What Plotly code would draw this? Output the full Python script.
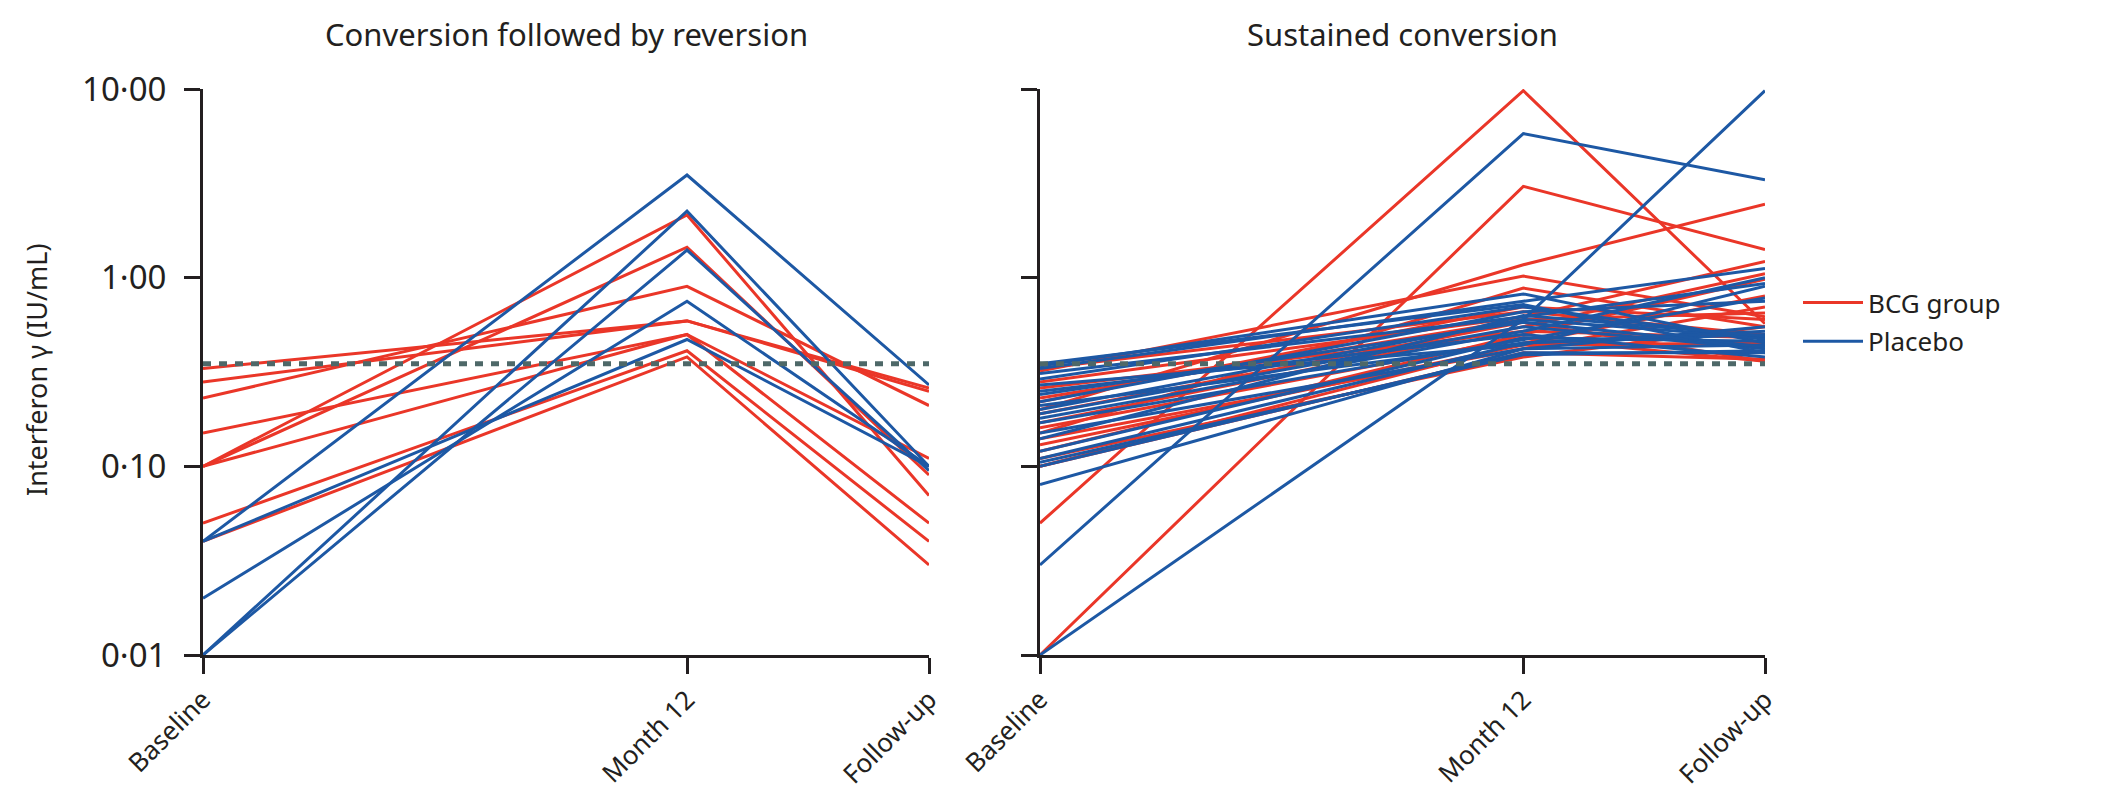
import plotly.graph_objects as go

# ---------------- data ----------------
timepoints = [0, 12, 18]
time_labels = ["Baseline", "Month 12", "Follow-up"]

y_tickvals = [0.01, 0.1, 1, 10]
y_ticktext = ["0·01", "0·10", "1·00", "10·00"]
cutoff = 0.35

panel_titles = ["Conversion followed by reversion", "Sustained conversion"]

# Left panel: conversion followed by reversion
left_bcg_baseline = [0.33, 0.28, 0.23, 0.10, 0.10, 0.15, 0.10, 0.05, 0.04]
left_bcg_month12 = [0.59, 0.59, 0.90, 2.15, 1.45, 0.50, 0.50, 0.41, 0.38]
left_bcg_followup = [0.26, 0.25, 0.21, 0.07, 0.09, 0.11, 0.05, 0.04, 0.03]

left_pla_baseline = [0.04, 0.04, 0.01, 0.01, 0.02]
left_pla_month12 = [3.5, 0.47, 2.25, 1.40, 0.75]
left_pla_followup = [0.27, 0.10, 0.10, 0.095, 0.10]

# Right panel: sustained conversion
right_bcg_baseline = [0.01, 0.05, 0.20, 0.32, 0.15, 0.28, 0.17, 0.12, 0.10, 0.23,
                      0.16, 0.10, 0.22, 0.26, 0.14, 0.11, 0.19, 0.33, 0.13]
right_bcg_month12 = [3.05, 9.8, 1.17, 1.02, 0.88, 0.62, 0.55, 0.50, 0.45, 0.60,
                     0.48, 0.40, 0.70, 0.52, 0.42, 0.38, 0.58, 0.66, 0.44]
right_bcg_followup = [1.41, 0.57, 2.45, 0.62, 0.55, 1.22, 1.05, 0.98, 0.80, 0.65,
                      0.36, 0.37, 0.60, 0.48, 0.70, 0.55, 0.36, 0.50, 0.45]

right_pla_baseline = [0.03, 0.01, 0.08, 0.34, 0.33, 0.31, 0.22, 0.20, 0.19, 0.18,
                      0.11, 0.10, 0.12, 0.25, 0.21, 0.15, 0.29, 0.24, 0.17, 0.105,
                      0.35, 0.14, 0.27]
right_pla_month12 = [5.8, 0.60, 0.42, 0.82, 0.75, 0.62, 0.66, 0.60, 0.55, 0.52,
                     0.45, 0.40, 0.48, 0.50, 0.45, 0.42, 0.70, 0.58, 0.47, 0.39,
                     0.72, 0.63, 0.44]
right_pla_followup = [3.3, 9.8, 0.55, 0.45, 1.12, 0.93, 0.75, 0.48, 0.42, 1.00,
                      0.50, 0.40, 0.46, 0.38, 0.52, 0.44, 0.47, 0.43, 0.78, 0.41,
                      0.40, 0.49, 0.90]

# ---------------- style ----------------
RED = "#EA3628"
BLUE = "#1D58A4"
AXIS = "#231F20"
TXT = "#231F20"
DASH = "#4E6868"
FONT = "Noto Sans"
LW = 3

fig = go.Figure()

panels = [
    ("x", "y", left_bcg_baseline, left_bcg_month12, left_bcg_followup,
     left_pla_baseline, left_pla_month12, left_pla_followup),
    ("x2", "y2", right_bcg_baseline, right_bcg_month12, right_bcg_followup,
     right_pla_baseline, right_pla_month12, right_pla_followup),
]

legend_done = {"BCG group": False, "Placebo": False}
for xa, ya, bb, bm, bf, pb, pm, pf in panels:
    for name, color, b_list, m_list, f_list in [
        ("BCG group", RED, bb, bm, bf),
        ("Placebo", BLUE, pb, pm, pf),
    ]:
        for b, m, f in zip(b_list, m_list, f_list):
            show = not legend_done[name]
            legend_done[name] = True
            fig.add_trace(go.Scatter(
                x=timepoints, y=[b, m, f], mode="lines",
                line=dict(color=color, width=LW),
                name=name, legendgroup=name, showlegend=show,
                xaxis=xa, yaxis=ya, hoverinfo="skip",
            ))
    fig.add_trace(go.Scatter(
        x=[timepoints[0], timepoints[-1]], y=[cutoff, cutoff], mode="lines",
        line=dict(color=DASH, width=5, dash="8px,8px"),
        showlegend=False, xaxis=xa, yaxis=ya, hoverinfo="skip",
    ))

W, H = 2105, 789
xd1 = [195 / W, 921 / W]
xd2 = [1032 / W, 1757 / W]
yd = [(H - 647) / H, (H - 81) / H]

common_x = dict(
    range=[0, 18], tickvals=timepoints, ticktext=time_labels, tickangle=-45,
    showline=True, linewidth=3, linecolor=AXIS, ticks="outside", ticklen=16,
    tickwidth=3, tickcolor=AXIS, showgrid=False, zeroline=False,
    automargin=False, tickfont=dict(family=FONT, size=26, color=TXT),
    ticklabelstandoff=0, fixedrange=True,
)
common_y = dict(
    type="log", range=[-2, 1], tickvals=y_tickvals, ticktext=y_ticktext,
    showline=True, linewidth=3, linecolor=AXIS, ticks="outside", ticklen=16,
    tickwidth=3, tickcolor=AXIS, showgrid=False, zeroline=False,
    automargin=False, tickfont=dict(family=FONT, size=33, color=TXT),
    fixedrange=True,
)

fig.update_layout(
    width=W, height=H,
    margin=dict(l=0, r=0, t=0, b=0),
    paper_bgcolor="white", plot_bgcolor="white",
    font=dict(family=FONT, color=TXT),
    xaxis=dict(domain=xd1, anchor="y", **common_x),
    yaxis=dict(domain=yd, anchor="x", ticklabelstandoff=11, **common_y),
    xaxis2=dict(domain=xd2, anchor="y2", **common_x),
    yaxis2=dict(domain=yd, anchor="x2", showticklabels=False, **common_y),
    legend=dict(
        x=1790 / W, y=(H - 271) / H, xanchor="left", yanchor="top",
        font=dict(family=FONT, size=26, color=TXT),
        itemwidth=60, tracegroupgap=2, bgcolor="rgba(0,0,0,0)",
    ),
    showlegend=True,
    annotations=[
        dict(text=panel_titles[0], x=(xd1[0] + xd1[1]) / 2, y=(H - 3) / H,
             xref="paper", yref="paper", showarrow=False,
             font=dict(family=FONT, size=31, color=TXT),
             xanchor="center", yanchor="top"),
        dict(text=panel_titles[1], x=(xd2[0] + xd2[1]) / 2, y=(H - 3) / H,
             xref="paper", yref="paper", showarrow=False,
             font=dict(family=FONT, size=31, color=TXT),
             xanchor="center", yanchor="top"),
        dict(text="Interferon γ (IU/mL)", x=28 / W, y=(H - 362) / H,
             xref="paper", yref="paper", showarrow=False, textangle=-90,
             font=dict(family=FONT, size=27, color=TXT),
             xanchor="center", yanchor="middle"),
    ],
)

fig.write_html("out.html")
